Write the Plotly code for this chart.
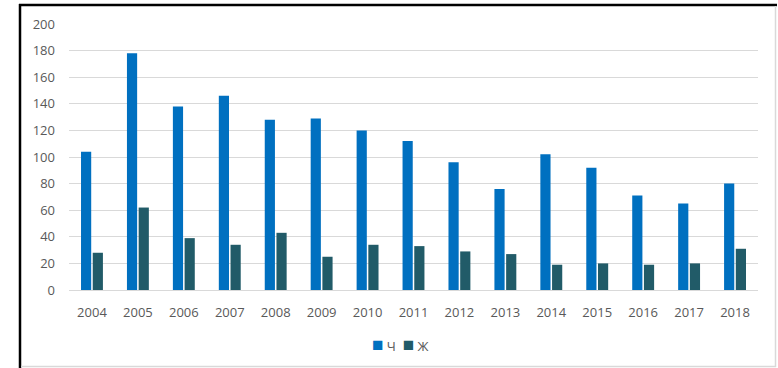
import plotly.graph_objects as go

# Yearly counts by group
years = ["2004", "2005", "2006", "2007", "2008", "2009", "2010", "2011",
         "2012", "2013", "2014", "2015", "2016", "2017", "2018"]
ch_values = [104, 178, 138, 146, 128, 129, 120, 112, 96, 76, 102, 92, 71, 65, 80]
zh_values = [28, 62, 39, 34, 43, 25, 34, 33, 29, 27, 19, 20, 19, 20, 31]
y_ticks = [0, 20, 40, 60, 80, 100, 120, 140, 160, 180, 200]
series_names = ["Ч", "Ж"]
series_colors = ["#0070C0", "#215B68"]

W, H = 778, 368
L, R, T, B = 69, 20, 24, 78
pw, ph = W - L - R, H - T - B


def px_x(x):
    return (x - L) / pw


def px_y(y):
    return (H - B - y) / ph


font_family = "Open Sans, Lato, sans-serif"
label_color = "#595959"

fig = go.Figure()
for name, vals, col in zip(series_names, [ch_values, zh_values], series_colors):
    fig.add_trace(go.Bar(x=years, y=vals, name=name, showlegend=False,
                         marker=dict(color=col, line=dict(width=0))))

# Compact legend row below the axis
legend_text = "  ".join(
    f"<span style='color:{c};font-size:19px'>■</span> {n}"
    for n, c in zip(series_names, series_colors)
)
annotations = [dict(xref="paper", yref="paper", x=px_x(400), y=px_y(344),
                    xanchor="center", yanchor="middle", showarrow=False,
                    text=legend_text,
                    font=dict(family=font_family, size=13, color=label_color))]

# Outer frame: dark left/top edges, light right/bottom edges
frame = [
    dict(x0=px_x(20), x1=px_x(20), y0=px_y(4), y1=px_y(368), color="#000000", w=2.5),
    dict(x0=px_x(19), x1=px_x(777), y0=px_y(5), y1=px_y(5), color="#000000", w=2.5),
    dict(x0=px_x(775.5), x1=px_x(775.5), y0=px_y(6), y1=px_y(367), color="#d9d9d9", w=1.5),
    dict(x0=px_x(21), x1=px_x(776), y0=px_y(366.5), y1=px_y(366.5), color="#d9d9d9", w=1.5),
]
shapes = [dict(type="line", xref="paper", yref="paper",
               x0=f["x0"], x1=f["x1"], y0=f["y0"], y1=f["y1"],
               line=dict(color=f["color"], width=f["w"]))
          for f in frame]

fig.update_layout(
    width=W, height=H,
    margin=dict(l=L, r=R, t=T, b=B, pad=0),
    paper_bgcolor="white", plot_bgcolor="white",
    barmode="group", bargap=0.49, bargroupgap=0.13,
    font=dict(family=font_family, size=13, color=label_color),
    showlegend=False,
    annotations=annotations,
    shapes=shapes,
    xaxis=dict(type="category", showgrid=False, ticks="",
               showline=True, linecolor="#d9d9d9", linewidth=1,
               tickfont=dict(size=13, color=label_color),
               ticklabelstandoff=10),
    yaxis=dict(range=[0, 200], tickvals=y_ticks, showgrid=True,
               gridcolor="#d9d9d9", gridwidth=1, zeroline=False,
               showline=False, ticks="",
               tickfont=dict(size=13, color=label_color),
               ticklabelstandoff=13),
)

fig.write_html("out.html")
